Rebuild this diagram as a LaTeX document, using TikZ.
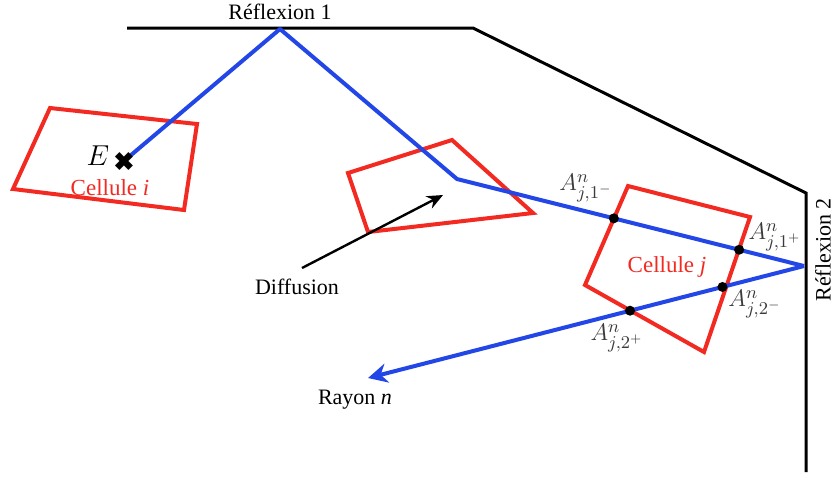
\documentclass[tikz,border=0pt]{standalone}
\usepackage[no-math]{fontspec}
\usepackage{pifont}
\setmainfont{Liberation Serif}
\usetikzlibrary{arrows.meta,positioning}
\definecolor{RayBlue}{HTML}{2346E6}
\definecolor{CellRed}{HTML}{F22A22}
\definecolor{WallInk}{HTML}{000000}
\definecolor{LabelInk}{HTML}{3A3A3A}
\tikzset{
  every node/.style={font=\fontsize{11}{13}\selectfont, text=black},
  wall/.style={draw=WallInk, line width=1.5pt},
  cell/.style={draw=CellRed, line width=2pt, line join=miter},
  ray/.style={draw=RayBlue, line width=2pt, line join=round},
  hit/.style={circle, fill=black, inner sep=0pt, minimum size=5pt},
  alabel/.style={text=LabelInk, inner sep=1pt, font=\fontsize{12.5}{14}\selectfont},
  celltext/.style={text=CellRed, font=\fontsize{11.5}{13}\selectfont},
  pointer/.style={-{Stealth[length=2.8mm,width=2.4mm]}, draw=black, line width=1.2pt},
}

\begin{document}
\begin{tikzpicture}[x=0.5pt,y=-0.5pt]
  \useasboundingbox (0,0) rectangle (834,479);
  % Walls
  \coordinate (w1) at (127,28);
  \coordinate (w2) at (473,28);
  \coordinate (w3) at (806,193);
  \coordinate (w4) at (806,472);
  \draw[wall] (w1) -- (w2) -- (w3) -- (w4);
  \node (refl1) at (280,12) {Réflexion 1};
  \node[rotate=90] (refl2) at (823,250) {Réflexion 2};
  % Cell i
  \draw[cell] (50,108) -- (197,124) -- (184,210) -- (13,189) -- cycle;
  \node[celltext] (celli) at (110,188) {Cellule \textit{i}};
  % Diffusion cell
  \draw[cell] (348,173) -- (452,140) -- (533,213) -- (368,232) -- cycle;
  % Cell j
  \draw[cell] (628,186) -- (750,217) -- (704,352) -- (585,285) -- cycle;
  \node[celltext] (cellj) at (667,267) {Cellule \textit{j}};
  % Ray n
  \coordinate (E) at (124,161);
  \coordinate (r1) at (280,29);
  \coordinate (d) at (457,179);
  \coordinate (r2) at (804,266);
  \coordinate (rend) at (368,378);
  \draw[ray] (E) -- (r1) -- (d) -- (r2);
  \draw[ray, -{Stealth[length=3.4mm,width=3.4mm]}] (r2) -- (rend);
  \node[font=\fontsize{13}{15}\selectfont, inner sep=0pt] (xmark) at (E) {\ding{54}};
  \node[font=\fontsize{14}{16}\selectfont] (Elab) at (98,156) {$E$};
  \node (rayon) at (355,400) {Rayon \textit{n}};
  % Intersections with cell j
  \path (d) -- (r2) coordinate[pos=0.452] (A1m) coordinate[pos=0.813] (A1p);
  \path (r2) -- (rend) coordinate[pos=0.187] (A2m) coordinate[pos=0.399] (A2p);
  \foreach \p in {A1m,A1p,A2m,A2p}
    \node[hit] at (\p) {};
  \node[alabel] (lA1m) at (586,188) {$A^n_{j,1^-}$};
  \node[alabel] (lA1p) at (775,237) {$A^n_{j,1^+}$};
  \node[alabel] (lA2m) at (755,304) {$A^n_{j,2^-}$};
  \node[alabel] (lA2p) at (617,338) {$A^n_{j,2^+}$};
  % Diffusion pointer
  \node (diff) at (297,287) {Diffusion};
  \coordinate (dtail) at (302,268);
  \coordinate (dtip) at (443,195);
  \draw[pointer] (dtail) -- (dtip);
\end{tikzpicture}
\end{document}
